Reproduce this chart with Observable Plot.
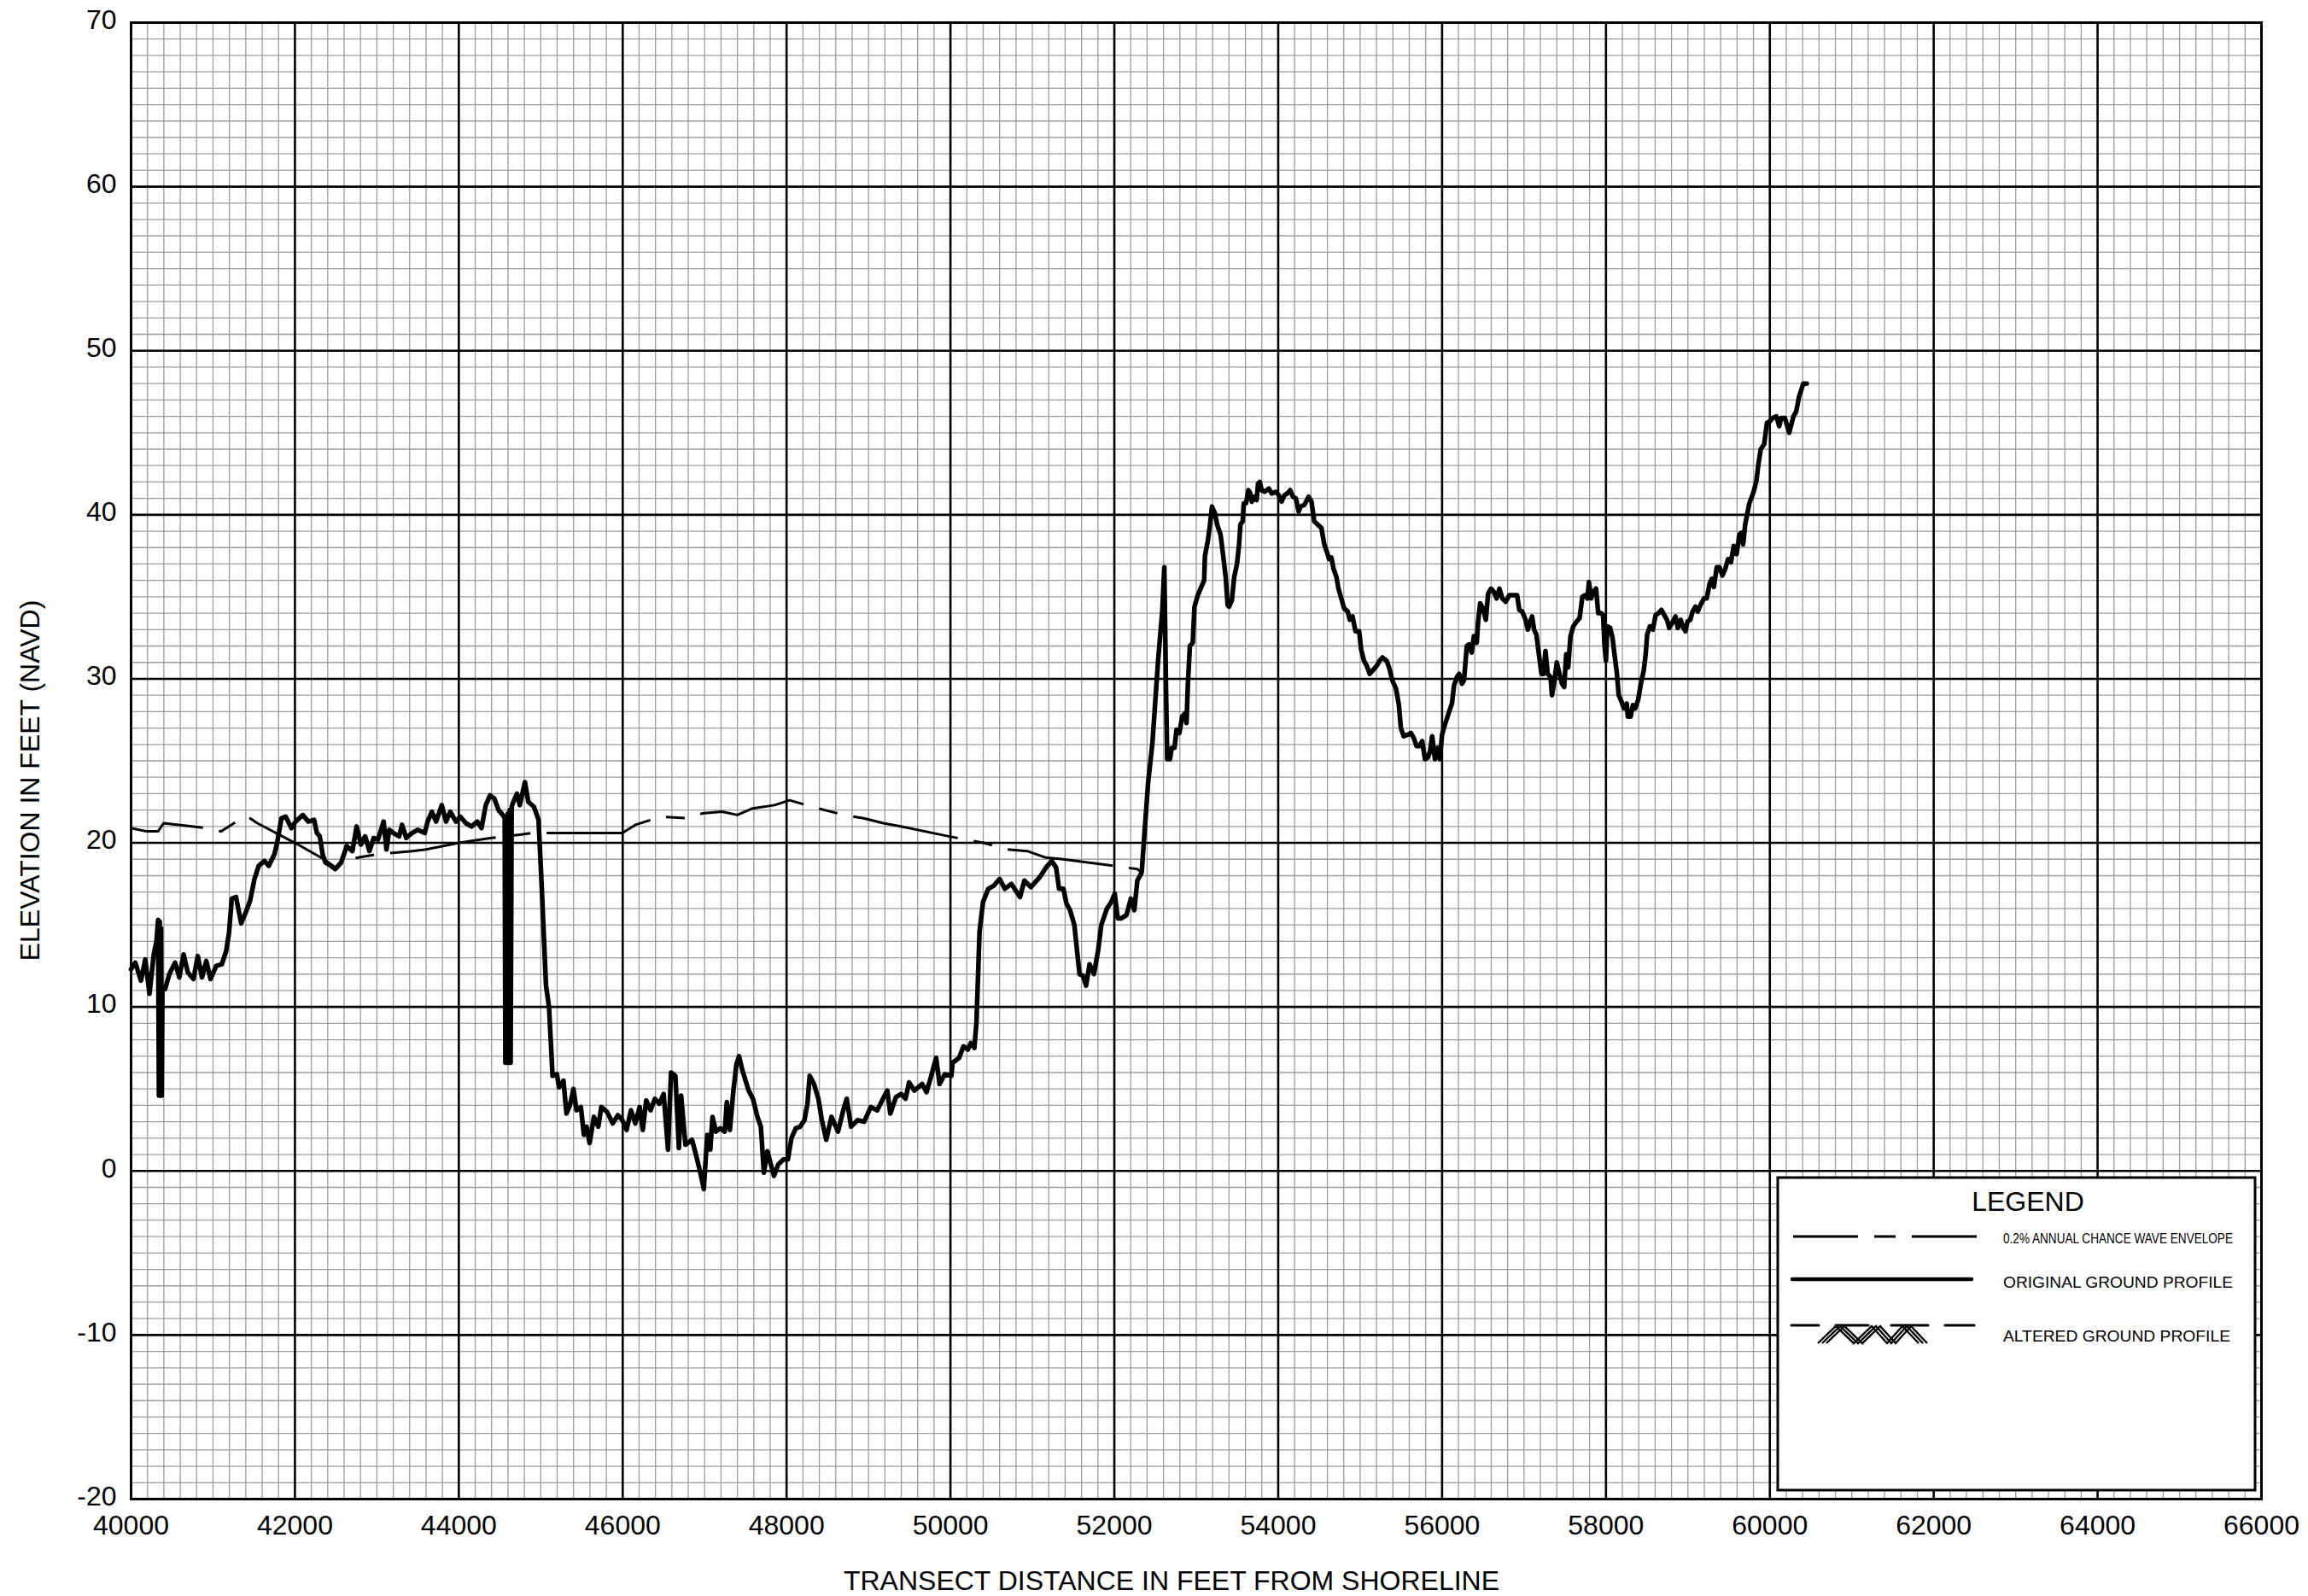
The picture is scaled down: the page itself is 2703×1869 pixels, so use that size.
<!DOCTYPE html>
<html>
<head>
<meta charset="utf-8">
<script src="https://cdn.jsdelivr.net/npm/d3@7"></script>
<script src="https://cdn.jsdelivr.net/npm/@observablehq/plot@0.6"></script>
<style>
  html, body { margin: 0; padding: 0; background: #ffffff; }
  #chart { position: relative; width: 2703px; height: 1869px; }
  #chart svg { display: block; }
</style>
</head>
<body>
<div id="chart"></div>
<script>
// ---- Tick labels ----
const xTicks = [40000, 42000, 44000, 46000, 48000, 50000, 52000, 54000, 56000, 58000, 60000, 62000, 64000, 66000];
const yTicks = [-20, -10, 0, 10, 20, 30, 40, 50, 60, 70];

// ---- Titles / legend text ----
const xTitle = "TRANSECT DISTANCE IN FEET FROM SHORELINE";
const yTitle = "ELEVATION IN FEET (NAVD)";
const legendTitle = "LEGEND";
const legendLabels = ["0.2% ANNUAL CHANCE WAVE ENVELOPE", "ORIGINAL GROUND PROFILE", "ALTERED GROUND PROFILE"];

// ---- 0.2% annual chance wave envelope ----
const envelopeDistance = [40000, 40190, 40329, 40398, 40935, 41100, 41350, 41420, 41541, 42000, 42355, 42494,
  42598, 42770, 43000, 43221, 43428, 43601, 44000, 44400, 44745, 44900, 45995, 46155, 46473, 46793, 46974,
  47213, 47399, 47585, 47851, 48037, 48383, 48702, 48941, 49181, 49394, 49979, 50404, 50697, 50936, 51167,
  51379, 52000, 52281, 52334];
const envelopeElevation = [20.9, 20.7, 20.7, 21.2, 20.9, 20.7, 21.5, 21.6, 21.2, 20.0, 19.0, 18.5,
  19.0, 19.1, 19.3, 19.4, 19.5, 19.6, 20.0, 20.3, 20.5, 20.6, 20.6, 21.1, 21.6, 21.5, 21.8,
  21.9, 21.7, 22.1, 22.3, 22.6, 22.1, 21.7, 21.5, 21.2, 21.0, 20.4, 20.0, 19.6, 19.5, 19.1,
  19.0, 18.6, 18.4, 18.2];

// ---- Original ground profile ----
const groundDistance = [
  40000, 40052, 40121, 40173, 40225, 40277, 40310, 40330, 40340, 40350, 40358, 40366, 40374, 40382,
  40416, 40467, 40537, 40589, 40641, 40693, 40762, 40814, 40866, 40918, 40970, 41039, 41108, 41160,
  41195, 41229, 41281, 41344, 41403, 41454, 41506, 41558, 41628, 41680, 41749, 41783, 41835, 41887,
  41957, 42009, 42095, 42164, 42234, 42268, 42303, 42338, 42372, 42441, 42493, 42563, 42632, 42701,
  42753, 42805, 42857, 42909, 42961, 43013, 43082, 43117, 43151, 43203, 43272, 43307, 43359, 43428,
  43498, 43584, 43619, 43671, 43723, 43792, 43844, 43896, 43965, 44017, 44086, 44156, 44225, 44277,
  44329, 44381, 44433, 44485, 44537, 44560, 44568, 44580, 44590, 44600, 44610, 44622, 44632, 44645,
  44658, 44710, 44744, 44807, 44848, 44917, 44973, 45011, 45064, 45101, 45144, 45197, 45223, 45277,
  45314, 45356, 45399, 45436, 45489, 45527, 45559, 45596, 45649, 45702, 45739, 45809, 45878, 45941,
  45995, 46048, 46101, 46154, 46207, 46245, 46287, 46340, 46393, 46447, 46500, 46553, 46590, 46643,
  46686, 46713, 46766, 46846, 46899, 46952, 46990, 47032, 47069, 47096, 47138, 47191, 47245, 47271,
  47308, 47351, 47388, 47420, 47457, 47537, 47590, 47644, 47686, 47723, 47766, 47803, 47846, 47899,
  47963, 48016, 48059, 48112, 48165, 48218, 48255, 48282, 48335, 48388, 48431, 48484, 48548, 48628,
  48697, 48734, 48787, 48867, 48947, 49027, 49106, 49176, 49229, 49266, 49335, 49399, 49452, 49495,
  49559, 49655, 49708, 49771, 49825, 49867, 49931, 50011, 50027, 50106, 50159, 50212, 50249, 50292,
  50318, 50355, 50398, 50462, 50531, 50600, 50663, 50743, 50796, 50849, 50902, 50981, 51088, 51167,
  51236, 51289, 51326, 51379, 51416, 51459, 51512, 51554, 51576, 51618, 51655, 51698, 51751, 51804,
  51841, 51910, 51963, 52005, 52042, 52085, 52148, 52201, 52244, 52281, 52334, 52361, 52413, 52465,
  52534, 52586, 52610, 52631, 52645, 52679, 52700, 52735, 52759, 52794, 52829, 52863, 52881, 52898,
  52922, 52957, 52978, 53019, 53061, 53096, 53106, 53141, 53165, 53192, 53227, 53255, 53296, 53331,
  53359, 53383, 53400, 53435, 53463, 53497, 53521, 53539, 53566, 53580, 53608, 53636, 53660, 53678,
  53712, 53737, 53754, 53775, 53799, 53834, 53886, 53920, 53972, 54007, 54042, 54076, 54111, 54146,
  54180, 54215, 54250, 54274, 54319, 54371, 54406, 54440, 54482, 54527, 54562, 54597, 54621, 54648,
  54676, 54711, 54735, 54770, 54804, 54849, 54873, 54908, 54943, 54988, 55012, 55047, 55081, 55116,
  55151, 55203, 55237, 55272, 55324, 55359, 55393, 55438, 55473, 55497, 55532, 55584, 55619, 55654,
  55688, 55723, 55757, 55792, 55827, 55854, 55879, 55913, 55948, 55972, 56000, 56034, 56086, 56121,
  56146, 56180, 56208, 56243, 56267, 56302, 56326, 56361, 56388, 56423, 56440, 56465, 56499, 56534,
  56562, 56597, 56631, 56666, 56700, 56735, 56777, 56822, 56867, 56915, 56943, 56978, 57019, 57047,
  57075, 57099, 57123, 57151, 57179, 57213, 57237, 57262, 57289, 57324, 57341, 57366, 57400, 57428,
  57463, 57490, 57515, 57539, 57567, 57601, 57643, 57678, 57712, 57747, 57775, 57792, 57820, 57844,
  57879, 57906, 57941, 57965, 57983, 58000, 58017, 58052, 58080, 58104, 58132, 58156, 58191, 58218,
  58253, 58267, 58301, 58329, 58357, 58392, 58426, 58461, 58485, 58503, 58537, 58572, 58607, 58641,
  58676, 58711, 58745, 58773, 58808, 58849, 58877, 58912, 58936, 58970, 58995, 59029, 59057, 59092,
  59120, 59154, 59196, 59230, 59265, 59293, 59317, 59352, 59386, 59421, 59456, 59490, 59525, 59560,
  59594, 59629, 59653, 59674, 59699, 59750, 59802, 59837, 59861, 59889, 59931, 59965, 60000, 60035,
  60080, 60114, 60139, 60184, 60236, 60288, 60322, 60357, 60409, 60450];
const groundElevation = [
  12.3, 12.7, 11.6, 12.9, 10.8, 13.2, 14.0, 15.3, 4.6, 15.2, 4.6, 14.8, 4.6, 11.0,
  11.1, 12.0, 12.7, 11.8, 13.2, 12.1, 11.7, 13.1, 11.8, 12.8, 11.7, 12.5, 12.6, 13.4,
  14.5, 16.6, 16.7, 15.1, 15.8, 16.5, 17.8, 18.6, 18.9, 18.6, 19.3, 20.0, 21.5, 21.6,
  20.9, 21.3, 21.7, 21.3, 21.4, 20.6, 20.4, 19.3, 18.8, 18.6, 18.4, 18.8, 19.8, 19.5,
  21.0, 19.9, 20.4, 19.5, 20.3, 20.2, 21.3, 19.6, 20.8, 20.6, 20.4, 21.1, 20.3, 20.6,
  20.8, 20.6, 21.3, 21.9, 21.3, 22.3, 21.3, 21.9, 21.3, 21.6, 21.2, 21.0, 21.3, 20.9,
  22.3, 22.9, 22.7, 22.0, 21.7, 21.5, 6.6, 21.6, 6.6, 21.8, 6.6, 22.0, 6.6, 22.2,
  22.4, 23.0, 22.3, 23.7, 22.5, 22.2, 21.4, 17.4, 11.3, 10.0, 5.8, 5.9, 5.1, 5.5,
  3.5, 4.0, 5.0, 3.7, 3.9, 2.2, 2.7, 1.7, 3.3, 2.7, 3.9, 3.6, 2.9, 3.4,
  3.1, 2.5, 3.7, 2.9, 3.9, 2.5, 4.3, 3.7, 4.4, 4.1, 4.7, 1.3, 6.0, 5.8,
  1.4, 4.6, 1.6, 1.9, 0.9, -0.2, -1.1, 2.2, 1.3, 3.3, 2.4, 2.6, 2.4, 4.2,
  2.5, 4.9, 6.5, 7.0, 6.2, 4.9, 4.4, 3.3, 2.7, -0.1, 1.2, 0.5, -0.3, 0.4,
  0.7, 0.7, 2.0, 2.6, 2.7, 3.1, 4.1, 5.8, 5.3, 4.4, 3.1, 1.9, 3.3, 2.4,
  3.8, 4.4, 2.7, 3.1, 3.0, 3.9, 3.7, 4.4, 4.9, 3.5, 4.5, 4.7, 4.4, 5.4,
  4.9, 5.3, 4.8, 5.9, 6.9, 5.3, 5.9, 5.8, 6.6, 6.9, 7.6, 7.4, 7.8, 7.5,
  9.1, 14.6, 16.4, 17.2, 17.4, 17.8, 17.2, 17.5, 17.1, 16.7, 17.7, 17.3, 17.9, 18.5,
  18.9, 18.5, 17.2, 17.2, 16.3, 15.9, 15.0, 13.0, 12.0, 11.9, 11.3, 12.6, 12.0, 13.5,
  15.0, 16.0, 16.4, 16.9, 15.4, 15.4, 15.6, 16.6, 15.9, 17.7, 18.2, 20.1, 23.7, 26.1,
  31.1, 34.2, 36.8, 29.4, 25.1, 25.1, 25.8, 25.8, 26.9, 26.7, 27.7, 27.9, 27.3, 29.7,
  32.0, 32.2, 34.4, 35.1, 35.6, 36.0, 37.5, 38.4, 39.3, 40.5, 40.1, 39.4, 38.8, 37.4,
  36.2, 34.5, 34.4, 34.8, 36.2, 37.0, 38.1, 39.4, 39.6, 40.7, 40.7, 41.5, 41.3, 40.8,
  41.1, 40.9, 41.9, 42.0, 41.5, 41.4, 41.6, 41.3, 41.4, 41.2, 40.8, 41.2, 41.3, 41.5,
  41.1, 41.0, 40.2, 40.5, 40.6, 41.1, 40.8, 39.6, 39.4, 39.2, 38.2, 37.7, 37.3, 37.4,
  36.7, 36.2, 35.5, 34.9, 34.3, 34.1, 33.6, 33.8, 32.9, 32.9, 31.8, 31.1, 30.8, 30.3,
  30.5, 30.8, 31.1, 31.3, 31.1, 30.6, 29.9, 29.4, 28.4, 27.0, 26.5, 26.6, 26.7, 26.4,
  25.9, 25.9, 26.2, 25.1, 25.2, 25.6, 26.5, 25.1, 25.8, 25.1, 26.6, 27.2, 28.0, 28.5,
  29.6, 30.1, 30.3, 29.7, 29.9, 32.0, 32.1, 31.6, 32.6, 32.2, 33.5, 34.6, 34.3, 33.6,
  35.2, 35.5, 35.3, 34.9, 35.5, 34.9, 34.7, 35.1, 35.1, 35.1, 34.2, 34.1, 33.6, 33.0,
  33.5, 33.8, 33.0, 32.7, 31.6, 30.3, 30.3, 31.7, 30.3, 30.1, 29.0, 29.7, 31.0, 30.4,
  29.7, 29.5, 31.5, 30.7, 32.6, 33.2, 33.5, 33.7, 35.0, 35.1, 34.9, 35.9, 34.9, 35.3,
  35.5, 34.0, 34.0, 33.9, 32.0, 31.1, 33.2, 33.1, 32.5, 31.5, 30.4, 29.0, 28.6, 28.2,
  28.5, 27.7, 27.7, 28.4, 28.2, 28.7, 29.7, 30.5, 31.5, 32.7, 33.2, 33.0, 33.9, 34.0,
  34.2, 33.9, 33.6, 33.1, 33.4, 33.8, 33.1, 33.6, 33.2, 32.9, 33.5, 33.6, 34.1, 34.4,
  34.1, 34.5, 34.9, 34.9, 35.8, 36.1, 35.6, 36.8, 36.8, 36.3, 36.7, 37.3, 37.1, 38.1,
  37.6, 38.8, 38.9, 38.2, 39.4, 40.7, 41.4, 42.1, 43.1, 44.0, 44.3, 45.6, 45.7, 45.9,
  46.0, 45.4, 45.9, 45.9, 45.0, 46.0, 46.3, 47.2, 48.0, 48.0];

const ground = groundDistance.map((x, i) => ({x, y: groundElevation[i]}));
const envelope = envelopeDistance.map((x, i) => ({x, y: envelopeElevation[i]}));

// grid lines (derived from the tick spacing)
const minorX = d3.range(40000, 66001, 200).filter(v => v % 2000 !== 0);
const minorY = d3.range(-20, 71, 1).filter(v => v % 10 !== 0);

const FONT = "'Liberation Sans', Arial, Helvetica, sans-serif";

const svg = Plot.plot({
  width: 2703,
  height: 1869,
  marginTop: 26,
  marginRight: 55,
  marginBottom: 114,
  marginLeft: 153,
  style: {fontFamily: FONT, background: "#ffffff", color: "#000000"},
  x: {type: "linear", domain: [40000, 66000], inset: 0},
  y: {type: "linear", domain: [-20, 70], inset: 0},
  marks: [
    Plot.ruleX(minorX, {stroke: "#9c9c9c", strokeWidth: 1.3}),
    Plot.ruleY(minorY, {stroke: "#9c9c9c", strokeWidth: 1.3}),
    Plot.ruleX(xTicks, {stroke: "#000000", strokeWidth: 2.6}),
    Plot.ruleY(yTicks, {stroke: "#000000", strokeWidth: 2.6}),
    Plot.frame({stroke: "#000000", strokeWidth: 3}),
    Plot.line(envelope, {x: "x", y: "y", stroke: "#000000", strokeWidth: 3,
      strokeDasharray: "125,19,22,19", strokeDashoffset: 35, strokeLinecap: "butt"}),
    Plot.line(ground, {x: "x", y: "y", stroke: "#000000", strokeWidth: 5.5,
      strokeLinejoin: "round", strokeLinecap: "round"}),
    Plot.axisX(xTicks, {anchor: "bottom", tickSize: 0, tickPadding: 19, fontSize: 32,
      tickFormat: d => String(d), label: null}),
    Plot.axisY(yTicks, {anchor: "left", tickSize: 0, tickPadding: 17, fontSize: 32, dy: -3,
      tickFormat: d => String(d), label: null})
  ]
});

document.getElementById("chart").appendChild(svg);

const root = d3.select(svg);

// ---- Axis titles ----
root.append("text").attr("x", 1372).attr("y", 1850).attr("dy", "0.36em")
  .attr("text-anchor", "middle").attr("font-family", FONT).attr("font-size", 32)
  .attr("fill", "#000").text(xTitle);
root.append("text").attr("transform", "translate(34,914) rotate(-90)").attr("dy", "0.36em")
  .attr("text-anchor", "middle").attr("font-family", FONT).attr("font-size", 32)
  .attr("fill", "#000").text(yTitle);

// ---- Legend box (drawn on top of the plot area) ----
const g = root.append("g").attr("font-family", FONT).attr("fill", "#000").attr("text-anchor", "start");
g.append("rect").attr("x", 2082).attr("y", 1379).attr("width", 559).attr("height", 366)
  .attr("fill", "#ffffff").attr("stroke", "#000").attr("stroke-width", 3);
g.append("text").attr("x", 2375).attr("y", 1418).attr("text-anchor", "middle")
  .attr("font-size", 32).text(legendTitle);

// envelope sample
g.append("line").attr("x1", 2100).attr("x2", 2315).attr("y1", 1448).attr("y2", 1448)
  .attr("stroke", "#000").attr("stroke-width", 3.2).attr("stroke-dasharray", "76,19,25,19");
g.append("text").attr("x", 2346).attr("y", 1456).attr("font-size", 16).attr("text-anchor", "start")
  .attr("textLength", 269).attr("lengthAdjust", "spacingAndGlyphs").text(legendLabels[0]);

// original ground sample
g.append("line").attr("x1", 2099).attr("x2", 2309).attr("y1", 1498).attr("y2", 1498)
  .attr("stroke", "#000").attr("stroke-width", 4.5).attr("stroke-linecap", "round");
g.append("text").attr("x", 2346).attr("y", 1508).attr("font-size", 19).attr("text-anchor", "start")
  .attr("textLength", 269).attr("lengthAdjust", "spacingAndGlyphs").text(legendLabels[1]);

// altered ground sample
const altY = 1552;
[[2098, 2130], [2150, 2188], [2215, 2258], [2278, 2312]].forEach(([a, b]) => {
  g.append("line").attr("x1", a).attr("x2", b).attr("y1", altY).attr("y2", altY)
    .attr("stroke", "#000").attr("stroke-width", 3.2).attr("stroke-linecap", "round");
});
const zig = [[2134, 1573], [2155, 1553], [2176, 1573], [2197, 1553], [2215, 1573], [2233, 1553], [2252, 1573]];
[-5, 0, 5].forEach(off => {
  g.append("polyline")
    .attr("points", zig.map(([px, py]) => `${px + off},${py}`).join(" "))
    .attr("fill", "none").attr("stroke", "#000").attr("stroke-width", 2.4);
});
g.append("text").attr("x", 2346).attr("y", 1571).attr("font-size", 19).attr("text-anchor", "start")
  .attr("textLength", 266).attr("lengthAdjust", "spacingAndGlyphs").text(legendLabels[2]);
</script>
</body>
</html>
